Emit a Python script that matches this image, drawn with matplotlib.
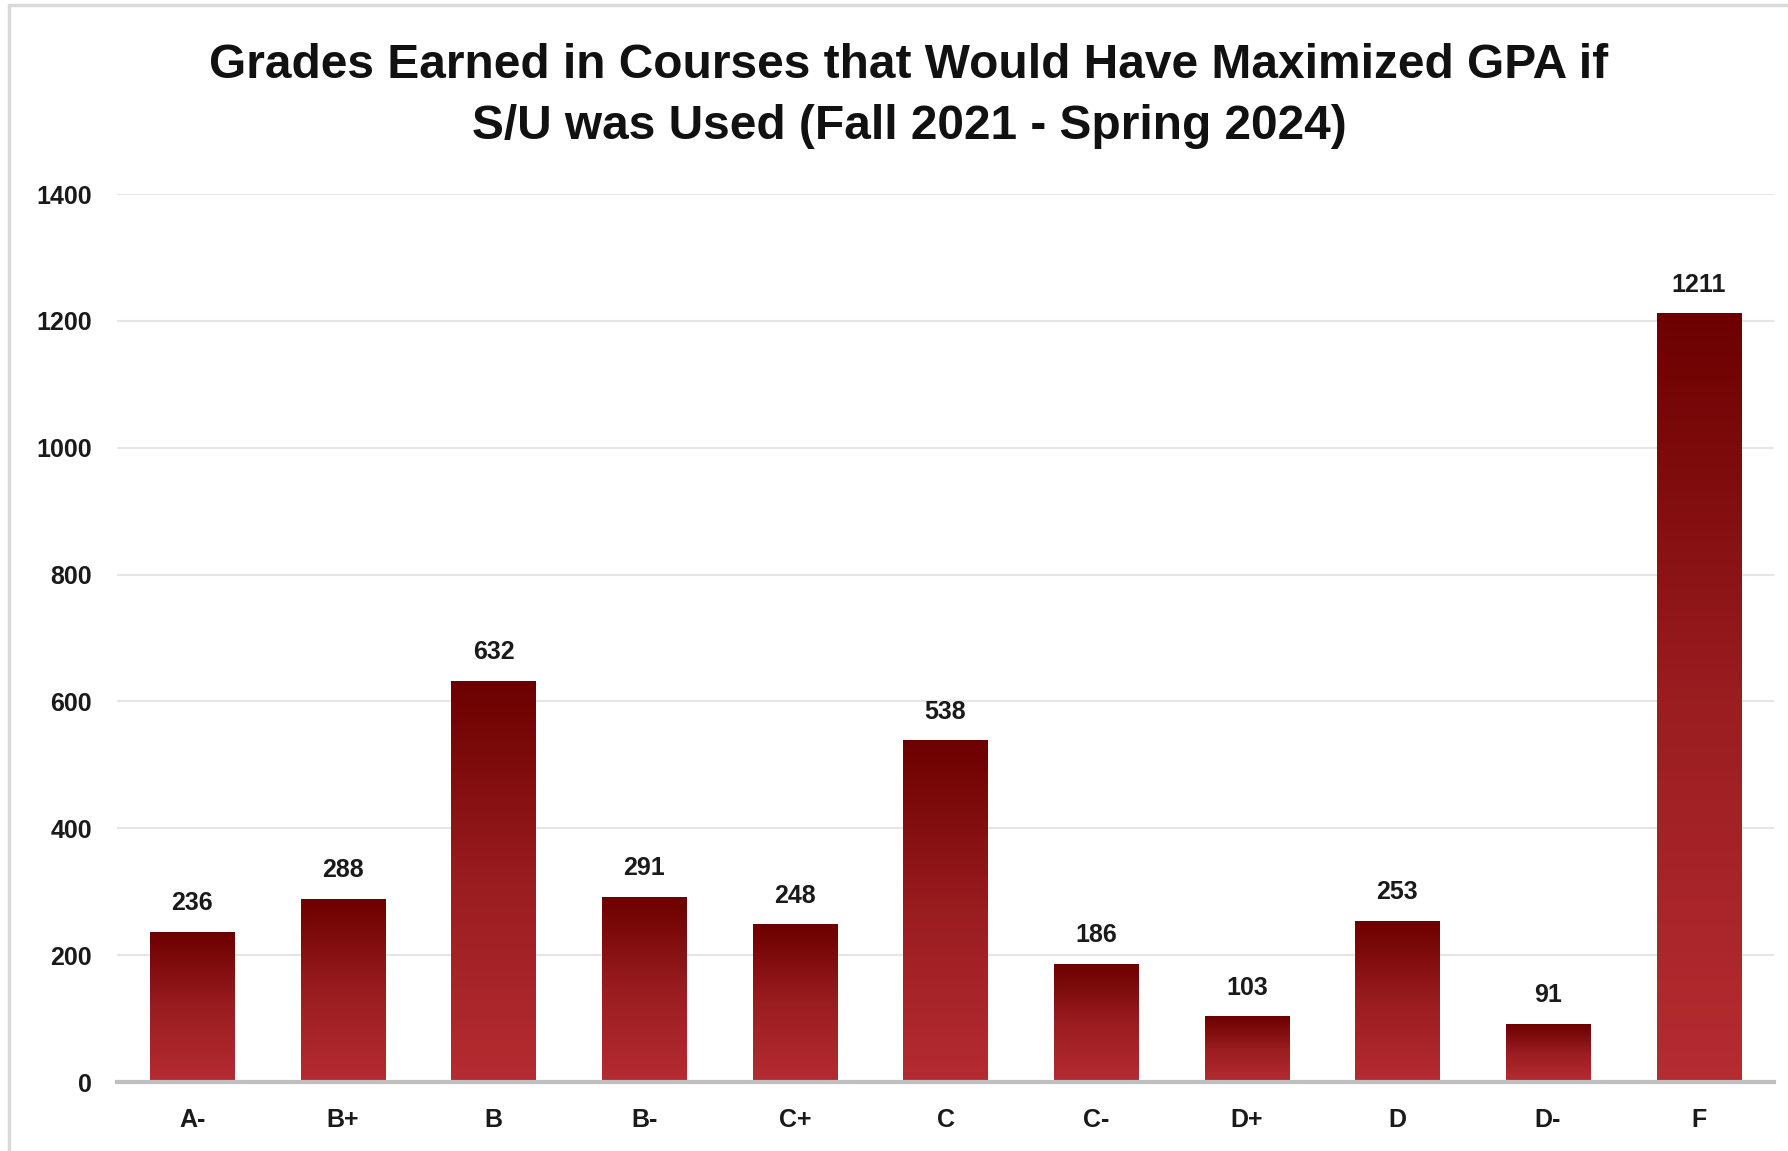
import numpy as np
import matplotlib
matplotlib.use("Agg")
import matplotlib.pyplot as plt
from matplotlib.colors import LinearSegmentedColormap
from matplotlib.patches import Rectangle

# data
grades = ["A-", "B+", "B", "B-", "C+", "C", "C-", "D+", "D", "D-", "F"]
counts = [236, 288, 632, 291, 248, 538, 186, 103, 253, 91, 1211]
yticks = [0, 200, 400, 600, 800, 1000, 1200, 1400]

title = "Grades Earned in Courses that Would Have Maximized GPA if\nS/U was Used (Fall 2021 - Spring 2024)"

plt.rcParams['font.family'] = ['Liberation Sans', 'DejaVu Sans']

fig = plt.figure(figsize=(17.88, 11.51), dpi=100)
ax = fig.add_axes([117 / 1788, 1 - 1082 / 1151, (1774 - 117) / 1788, (1082 - 194) / 1151])

# light frame around the chart (right/bottom run off the picture)
fig.patches.append(Rectangle((9 / 1788, -0.05), 1.2, 1 - 5 / 1151 + 0.05,
                             transform=fig.transFigure, fill=False,
                             edgecolor="#d9d9d9", linewidth=2.5))

cmap = LinearSegmentedColormap.from_list("bar", ["#b52c31", "#9a1d20", "#6c0000"])
grad = np.linspace(0, 1, 256).reshape(-1, 1)
width = 0.56

x = np.arange(len(grades))
for xi, val in zip(x, counts):
    ax.imshow(grad, extent=[xi - width / 2, xi + width / 2, 0, val], origin="lower",
              aspect="auto", cmap=cmap, zorder=3)
    ax.text(xi, val + 27, str(val), ha="center", va="bottom",
            fontsize=18, fontweight="bold", color="#1a1a1a", zorder=4)

ax.set_xlim(-0.5, len(grades) - 0.5)
ax.set_ylim(0, 1400)
ax.set_yticks(yticks)
ax.set_xticks(x)
ax.set_xticklabels(grades)
ax.grid(axis="y", color="#e6e6e6", linewidth=1.5, zorder=0)
ax.set_axisbelow(True)

for s in ["top", "right", "left"]:
    ax.spines[s].set_visible(False)
ax.spines["bottom"].set_color("#bfbfbf")
ax.spines["bottom"].set_linewidth(3)
ax.spines["bottom"].set_zorder(5)

ax.tick_params(axis="both", length=0, labelsize=18, labelcolor="#1a1a1a")
ax.tick_params(axis="x", pad=19)
ax.tick_params(axis="y", pad=18)
for lab in ax.get_xticklabels() + ax.get_yticklabels():
    lab.set_fontweight("bold")

fig.text(909 / 1788, 1 - 96 / 1151, title, ha="center", va="center",
         fontsize=34.5, fontweight="bold", color="#111111", linespacing=1.48)

fig.savefig("out.png", dpi=100, facecolor="white")
